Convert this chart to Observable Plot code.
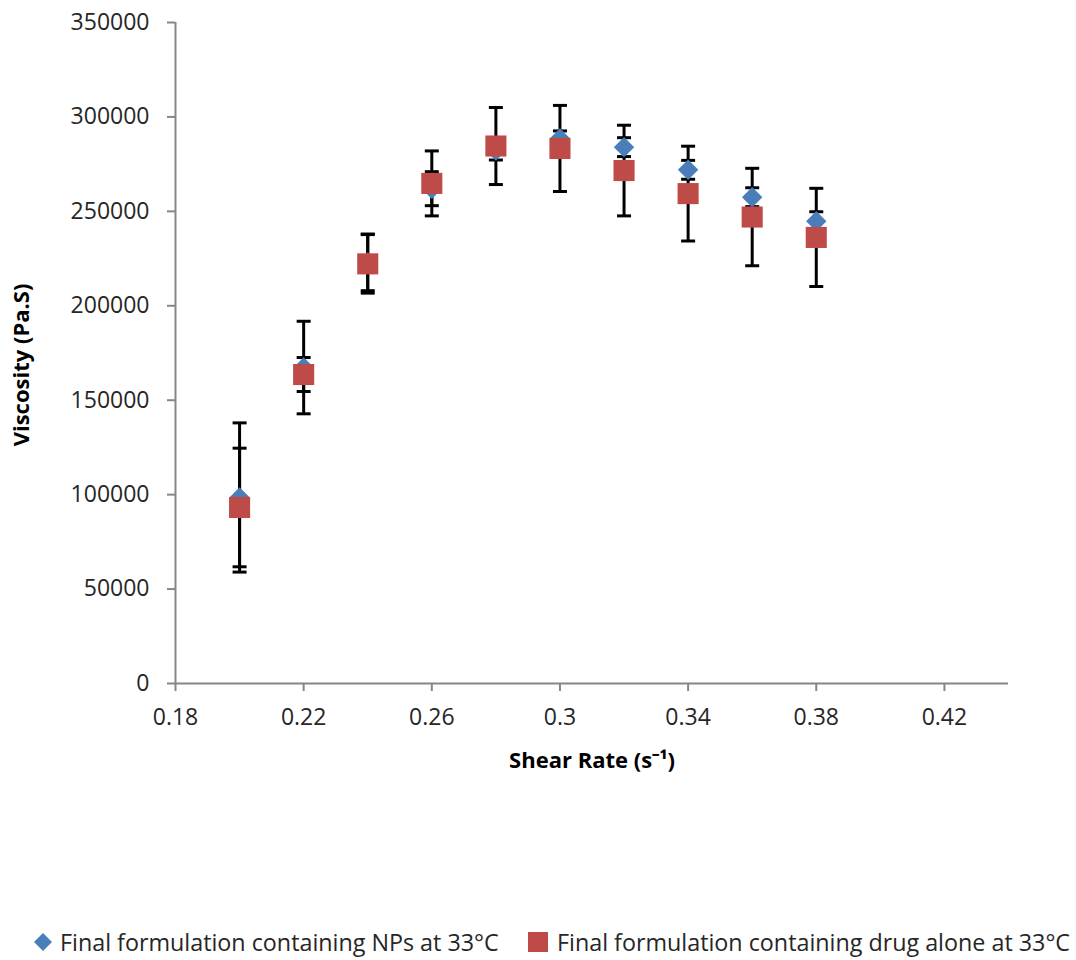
<!DOCTYPE html>
<html>
<head>
<meta charset="utf-8">
<script src="https://cdn.jsdelivr.net/npm/d3@7"></script>
<script src="https://cdn.jsdelivr.net/npm/@observablehq/plot@0.6"></script>
<style>
  html, body { margin: 0; padding: 0; background: #fff; }
  #chart svg { display: block; }
  #legend { position: relative; height: 40px; font-family: "Open Sans", sans-serif; font-size: 23.3px; color: #262626; }
  .item { position: absolute; top: 2px; display: flex; align-items: center; height: 40px; white-space: nowrap; }
</style>
</head>
<body>
<div id="chart"></div>
<div id="legend"></div>
<script>
// Data
const shearRate = [0.20, 0.22, 0.24, 0.26, 0.28, 0.30, 0.32, 0.34, 0.36, 0.38];
const npViscosity = [98500, 167300, 223000, 262000, 282200, 288600, 284000, 272000, 257500, 244800];
const npError     = [39500, 24500, 15000, 9000, 5000, 4000, 5000, 5000, 5000, 5000];
const drugViscosity = [93200, 163600, 222200, 264800, 284600, 283300, 271600, 259400, 247000, 236200];
const drugError     = [31400, 9000, 15500, 17200, 20400, 22800, 24000, 25100, 25800, 26000];
const xTicks = [0.18, 0.22, 0.26, 0.30, 0.34, 0.38, 0.42];
const yTicks = [0, 50000, 100000, 150000, 200000, 250000, 300000, 350000];
const seriesNames = ["Final formulation containing NPs at 33°C", "Final formulation containing drug alone at 33°C"];
const seriesColors = ["#4A7EBB", "#BE4B48"];

const np = shearRate.map((x, i) => ({x, y: npViscosity[i], lo: npViscosity[i] - npError[i], hi: npViscosity[i] + npError[i]}));
const drug = shearRate.map((x, i) => ({x, y: drugViscosity[i], lo: drugViscosity[i] - drugError[i], hi: drugViscosity[i] + drugError[i]}));
const all = np.concat(drug);

const capSymbol = { draw(ctx, size) { const w = 7; ctx.moveTo(-w, 0); ctx.lineTo(w, 0); } };
const font = `"Open Sans", sans-serif`;

const chart = Plot.plot({
  width: 1076,
  height: 920,
  marginLeft: 175,
  marginRight: 68,
  marginTop: 22,
  marginBottom: 237,
  style: { fontFamily: font, fontSize: "23px", color: "#262626", background: "#fff" },
  x: { domain: [0.18, 0.44] },
  y: { domain: [0, 350000] },
  marks: [
    Plot.ruleY([0], { stroke: "#868686", strokeWidth: 2 }),
    Plot.ruleX([0.18], { stroke: "#868686", strokeWidth: 2 }),
    Plot.axisX({ ticks: xTicks, tickFormat: d => String(+d.toFixed(2)), tickSize: 8, tickPadding: 17, stroke: "#868686", strokeWidth: 2,
      label: "Shear Rate (s⁻¹)", labelAnchor: "center", labelArrow: "none", labelOffset: 84 }),
    Plot.axisY({ ticks: yTicks, tickFormat: d => String(d), tickSize: 8, tickPadding: 18, stroke: "#868686", strokeWidth: 2,
      label: "Viscosity (Pa.S)", labelAnchor: "center", labelArrow: "none", labelOffset: 162 }),
    Plot.ruleX(all, { x: "x", y1: "lo", y2: "hi", stroke: "#000", strokeWidth: 3 }),
    Plot.dot(all, { x: "x", y: "lo", symbol: capSymbol, stroke: "#000", strokeWidth: 3, r: 5 }),
    Plot.dot(all, { x: "x", y: "hi", symbol: capSymbol, stroke: "#000", strokeWidth: 3, r: 5 }),
    Plot.dot(np, { x: "x", y: "y", symbol: "diamond2", r: 9.2, fill: seriesColors[0], stroke: "none" }),
    Plot.dot(drug, { x: "x", y: "y", symbol: "square", r: 11.9, fill: seriesColors[1], stroke: "none" })
  ]
});
document.getElementById("chart").appendChild(chart);
d3.select(chart).selectAll('[aria-label="x-axis label"] text, [aria-label="y-axis label"] text')
  .style("font-weight", "bold").style("font-size", "22px").attr("fill", "#000");
d3.select(chart).selectAll('[aria-label="y-axis label"] text').attr("dx", -12);

// Legend
const legend = d3.select("#legend");
const it1 = legend.append("div").attr("class", "item").style("left", "34px");
it1.append("svg").attr("width", 20).attr("height", 20).style("margin-right", "6px")
  .append("path").attr("d", "M9,1L18,10L9,19L0,10Z").attr("fill", seriesColors[0]);
it1.append("span").text(seriesNames[0]);
const it2 = legend.append("div").attr("class", "item").style("left", "527px");
it2.append("svg").attr("width", 22).attr("height", 22).style("margin-right", "8px")
  .append("rect").attr("x", 1).attr("y", 1).attr("width", 20).attr("height", 20).attr("fill", seriesColors[1]);
it2.append("span").text(seriesNames[1]);
</script>
</body>
</html>
